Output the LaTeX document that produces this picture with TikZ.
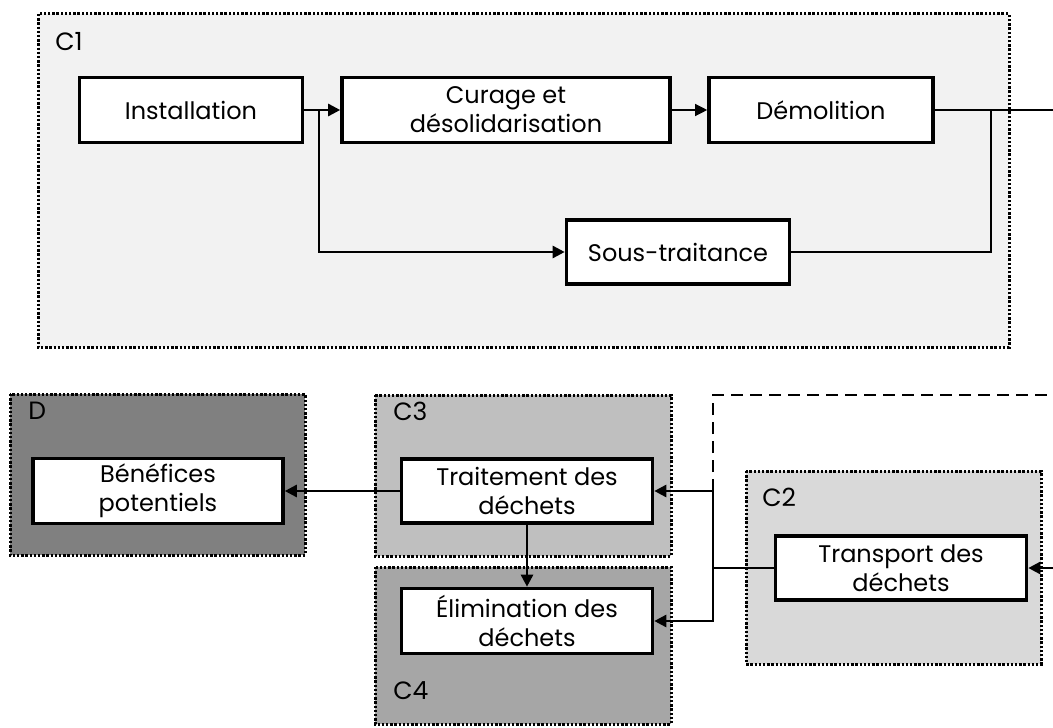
\documentclass[tikz,border=0pt]{standalone}
\usepackage{fontspec}
\setmainfont{Poppins}
\usetikzlibrary{arrows.meta}

\definecolor{fondCun}{HTML}{F2F2F2}
\definecolor{fondCdeux}{HTML}{D9D9D9}
\definecolor{fondCtrois}{HTML}{BFBFBF}
\definecolor{fondCquatre}{HTML}{A6A6A6}
\definecolor{fondD}{HTML}{808080}

\tikzset{
	etape/.style={draw, line width=1.8pt, fill=white, align=center, inner sep=0pt,
		font=\fontsize{12}{14.5}\selectfont},
	cadre/.style={line width=1.5pt, dash pattern=on 1.2pt off 0.9pt},
	titre/.style={anchor=west, inner sep=0pt, font=\fontsize{12.5}{14}\selectfont},
	fleche/.style={line width=1.3pt, -{Triangle[length=6pt,width=6pt]}},
	ligne/.style={line width=1.3pt},
}

\begin{document}
\begin{tikzpicture}[x=0.5pt, y=-0.5pt]
	\useasboundingbox (0,0) rectangle (1053,727);

	%% Cadres
	\draw[cadre, fill=fondCun] (38,14) rectangle (1009,347);
	\draw[cadre, fill=fondD] (10,394) rectangle (305,555);
	\draw[cadre, fill=fondCtrois] (375,395) rectangle (671,556);
	\draw[cadre, fill=fondCquatre] (375,567) rectangle (671,724);
	\draw[cadre, fill=fondCdeux] (746,471) rectangle (1041,664);
	\node[titre] (tC1) at (55,42) {C1};
	\node[titre] (tD) at (28,411) {D};
	\node[titre] (tC3) at (393,411) {C3};
	\node[titre] (tC4) at (393,691) {C4};
	\node[titre] (tC2) at (762,497) {C2};
	%%%%%%%%%%%%%%%%

	%% Etapes
	\node[etape, minimum width=111.5pt, minimum height=32.5pt] (inst) at (191,110) {Installation};
	\node[etape, minimum width=164pt, minimum height=32.5pt] (cur) at (506,110) {Curage et\\d\'esolidarisation};
	\node[etape, minimum width=112pt, minimum height=32.5pt] (demol) at (821,110) {D\'emolition};
	\node[etape, minimum width=111.5pt, minimum height=32pt] (sous) at (678,252) {Sous-traitance};
	\node[etape, minimum width=125pt, minimum height=32.5pt] (benef) at (158,491) {B\'en\'efices\\potentiels};
	\node[etape, minimum width=125.5pt, minimum height=32pt] (trait) at (527,491) {Traitement des\\d\'echets};
	\node[etape, minimum width=125.5pt, minimum height=32.5pt] (elim) at (527,621) {\'Elimination des\\d\'echets};
	\node[etape, minimum width=125.5pt, minimum height=32pt] (transp) at (901,568) {Transport des\\d\'echets};

	%% Liaisons
	\coordinate (b1) at (319,110);
	\coordinate (b2) at (991,110);
	\coordinate (sortie) at (1053,110);
	\coordinate (entree) at (1053,568);
	\coordinate (b3) at (713,568);
	\coordinate (bh) at (713,491);
	\coordinate (bb) at (713,621);
	\coordinate (coin) at (713,395);
	\coordinate (tiret) at (1053,395);

	\draw[fleche] (inst) -- (cur);
	\draw[fleche] (b1) |- (sous);
	\draw[line width=0.6pt, -{Triangle[length=6pt,width=6pt]}] (cur) -- (demol);
	\draw[ligne] (demol) -- (sortie);
	\draw[ligne] (sous) -| (b2);

	\draw[fleche] (entree) -- (transp);
	\draw[ligne] (transp) -- (b3);
	\draw[fleche] (b3) |- (trait);
	\draw[fleche] (b3) |- (elim);
	\draw[line width=1.3pt, dash pattern=on 6pt off 3.5pt] (bh) -- (coin) -- (tiret);
	\draw[fleche] (trait) -- (benef);
	\draw[fleche] (trait) -- (elim);
\end{tikzpicture}
\end{document}
